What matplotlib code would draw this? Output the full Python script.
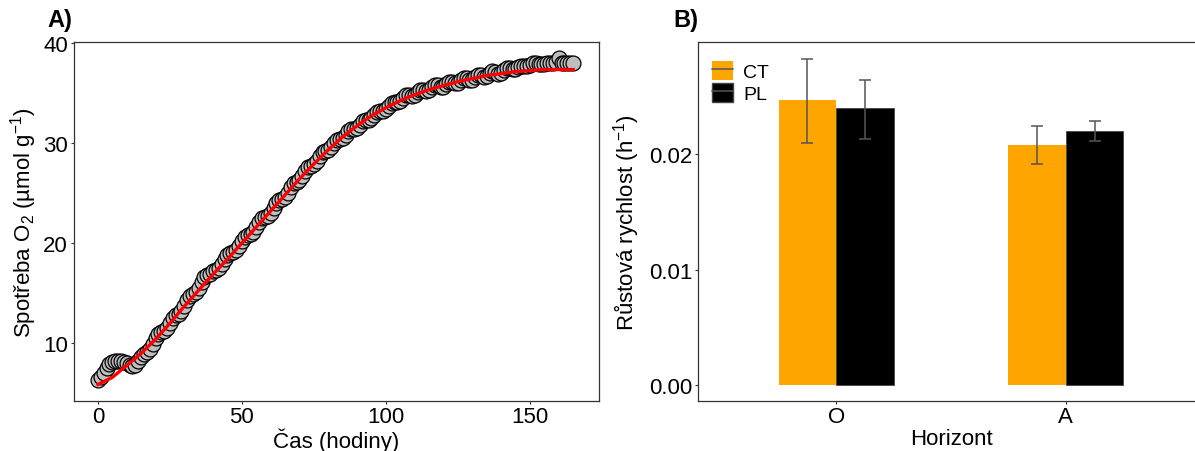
import matplotlib
matplotlib.use("Agg")
import matplotlib.pyplot as plt
from matplotlib.patches import Patch
from matplotlib.lines import Line2D
import numpy as np

plt.rcParams['font.family'] = ['Liberation Sans', 'DejaVu Sans']
plt.rcParams['mathtext.fontset'] = 'custom'
plt.rcParams['mathtext.rm'] = 'Liberation Sans'
plt.rcParams['mathtext.it'] = 'Liberation Sans:italic'

# ---- Panel A data: O2 consumption over time ----
hours = list(range(0, 166))
o2_obs = [
    6.3, 6.6, 7.0, 7.5, 7.9, 8.1, 8.2, 8.2, 8.2, 8.1,
    8.0, 7.8, 7.7, 7.8, 8.2, 8.6, 8.9, 9.1, 9.4, 9.9,
    10.5, 10.9, 11.1, 11.2, 11.5, 12.0, 12.5, 12.8, 12.9, 13.2,
    13.7, 14.3, 14.7, 14.9, 15.1, 15.5, 16.1, 16.6, 16.8, 16.9,
    17.2, 17.3, 17.5, 17.9, 18.4, 18.8, 19.0, 19.1, 19.3, 19.7,
    20.2, 20.6, 20.8, 20.9, 21.1, 21.6, 22.1, 22.5, 22.6, 22.7,
    23.0, 23.5, 24.0, 24.3, 24.4, 24.6, 25.0, 25.6, 26.0, 26.1,
    26.3, 26.7, 27.2, 27.6, 27.7, 27.9, 28.2, 28.7, 29.1, 29.2,
    29.3, 29.6, 30.0, 30.3, 30.4, 30.5, 30.8, 31.2, 31.4, 31.4,
    31.5, 31.8, 32.2, 32.3, 32.3, 32.5, 32.8, 33.1, 33.2, 33.2,
    33.4, 33.7, 34.0, 34.1, 34.1, 34.2, 34.5, 34.8, 34.8, 34.7,
    34.8, 35.1, 35.3, 35.3, 35.2, 35.3, 35.6, 35.8, 35.8, 35.6,
    35.6, 35.9, 36.1, 36.1, 36.0, 36.0, 36.3, 36.5, 36.5, 36.3,
    36.3, 36.6, 36.8, 36.8, 36.6, 36.7, 37.0, 37.2, 37.1, 36.9,
    37.0, 37.3, 37.5, 37.5, 37.4, 37.4, 37.6, 37.7, 37.7, 37.7,
    37.8, 38.0, 38.0, 37.9, 37.9, 37.9, 38.0, 38.0, 38.0, 38.1,
    38.5, 38.0, 38.0, 38.0, 38.0, 38.0,
]
fit_hours = [0, 5, 10, 15, 20, 25, 30, 35, 40, 45, 50, 55, 60, 65, 70, 75, 80,
             85, 90, 95, 100, 105, 110, 115, 120, 125, 130, 135, 140, 145, 150,
             155, 160, 165]
fit_o2 = [5.9, 6.6, 7.8, 9.0, 10.4, 12.0, 13.7, 15.3, 16.9, 18.4, 20.0, 21.6,
          23.2, 24.8, 26.4, 27.9, 29.3, 30.6, 31.7, 32.7, 33.5, 34.2, 34.8,
          35.3, 35.7, 36.1, 36.4, 36.7, 36.9, 37.1, 37.2, 37.3, 37.3, 37.3]

# ---- Panel B data: growth rate by horizon ----
horizons = ["O", "A"]
treatments = ["CT", "PL"]
rate_ct = [0.0247, 0.0208]
rate_pl = [0.0240, 0.0220]
err_ct_center = [0.0246, 0.0208]
err_pl_center = [0.0239, 0.0220]
err_ct = [0.00365, 0.00163]
err_pl = [0.00256, 0.00087]

W, H = 1195, 452
fig = plt.figure(figsize=(W / 100, H / 100), dpi=100)

def fx(px):
    return px / W

def fy(py):
    return 1 - py / H

FS = 16

# Panel A
axA = fig.add_axes([fx(74), fy(402), fx(599 - 74), (402 - 43) / H])
axA.scatter(hours, o2_obs, s=115, facecolor='#BEBEBE', edgecolor='black',
            linewidths=0.9, zorder=2)
axA.plot(fit_hours, fit_o2, color='#FF0000', lw=2.4, zorder=3)
axA.set_xlim(-8.3, 174.0)
axA.set_ylim(4.25, 40.05)
axA.set_xticks([0, 50, 100, 150])
axA.set_yticks([10, 20, 30, 40])
axA.set_xlabel("Čas (hodiny)", fontsize=FS, labelpad=0.5)
axA.set_ylabel("Spotřeba O$_2$ (µmol g$^{-1}$)", fontsize=FS, labelpad=3)
axA.tick_params(axis='x', pad=1)
axA.tick_params(labelsize=FS, length=2.5, width=0.8, color='#333333')
axA.tick_params(axis='y', pad=2)
for sp in axA.spines.values():
    sp.set_linewidth(0.9)
    sp.set_color('#333333')

# Panel B
axB = fig.add_axes([fx(698.3), fy(402), (1203.7 - 698.3) / W, (402 - 43) / H])
pos = np.arange(1, len(horizons) + 1)
bw = 0.25
axB.bar(pos - bw / 2, rate_ct, width=bw, color='#FFA500', edgecolor='none',
        zorder=2)
axB.bar(pos + bw / 2, rate_pl, width=bw, color='black', edgecolor='#444444',
        linewidth=0.6, zorder=2)
axB.errorbar(pos - bw / 2, err_ct_center, yerr=err_ct, fmt='none',
             ecolor='#555555', elinewidth=1.1, capsize=4.2, capthick=1.1,
             zorder=3)
axB.errorbar(pos + bw / 2, err_pl_center, yerr=err_pl, fmt='none',
             ecolor='#555555', elinewidth=1.1, capsize=4.2, capthick=1.1,
             zorder=3)
axB.set_xlim(0.4, 2.6)
axB.set_ylim(-0.00141, 0.02974)
axB.set_xticks(pos)
axB.set_xticklabels(horizons)
axB.set_yticks([0.0, 0.01, 0.02])
axB.set_yticklabels(["0.00", "0.01", "0.02"])
axB.set_xlabel("Horizont", fontsize=FS, labelpad=0.5)
axB.set_ylabel("Růstová rychlost (h$^{-1}$)", fontsize=FS, labelpad=5)
axB.tick_params(labelsize=FS, length=2.5, width=0.8, color='#333333')
axB.tick_params(axis='x', pad=1)
axB.tick_params(axis='y', pad=2)
for sp in axB.spines.values():
    sp.set_linewidth(0.9)
    sp.set_color('#333333')

handles = [
    (Patch(facecolor='#FFA500', edgecolor='none'),
     Line2D([0], [0], color='#555555', lw=1.1)),
    (Patch(facecolor='black', edgecolor='#444444'),
     Line2D([0], [0], color='#555555', lw=1.1)),
]
axB.legend(handles, treatments, loc='upper left', bbox_to_anchor=(0.0, 0.985),
           frameon=False, fontsize=14, handlelength=1.1, handleheight=1.1,
           handletextpad=0.5, labelspacing=0.12, borderaxespad=0.3)

fig.text(fx(47), fy(20), "A)", fontsize=17, fontweight='bold', va='center',
         ha='left')
fig.text(fx(673), fy(20), "B)", fontsize=17, fontweight='bold', va='center',
         ha='left')

fig.savefig("out.png", dpi=100)
